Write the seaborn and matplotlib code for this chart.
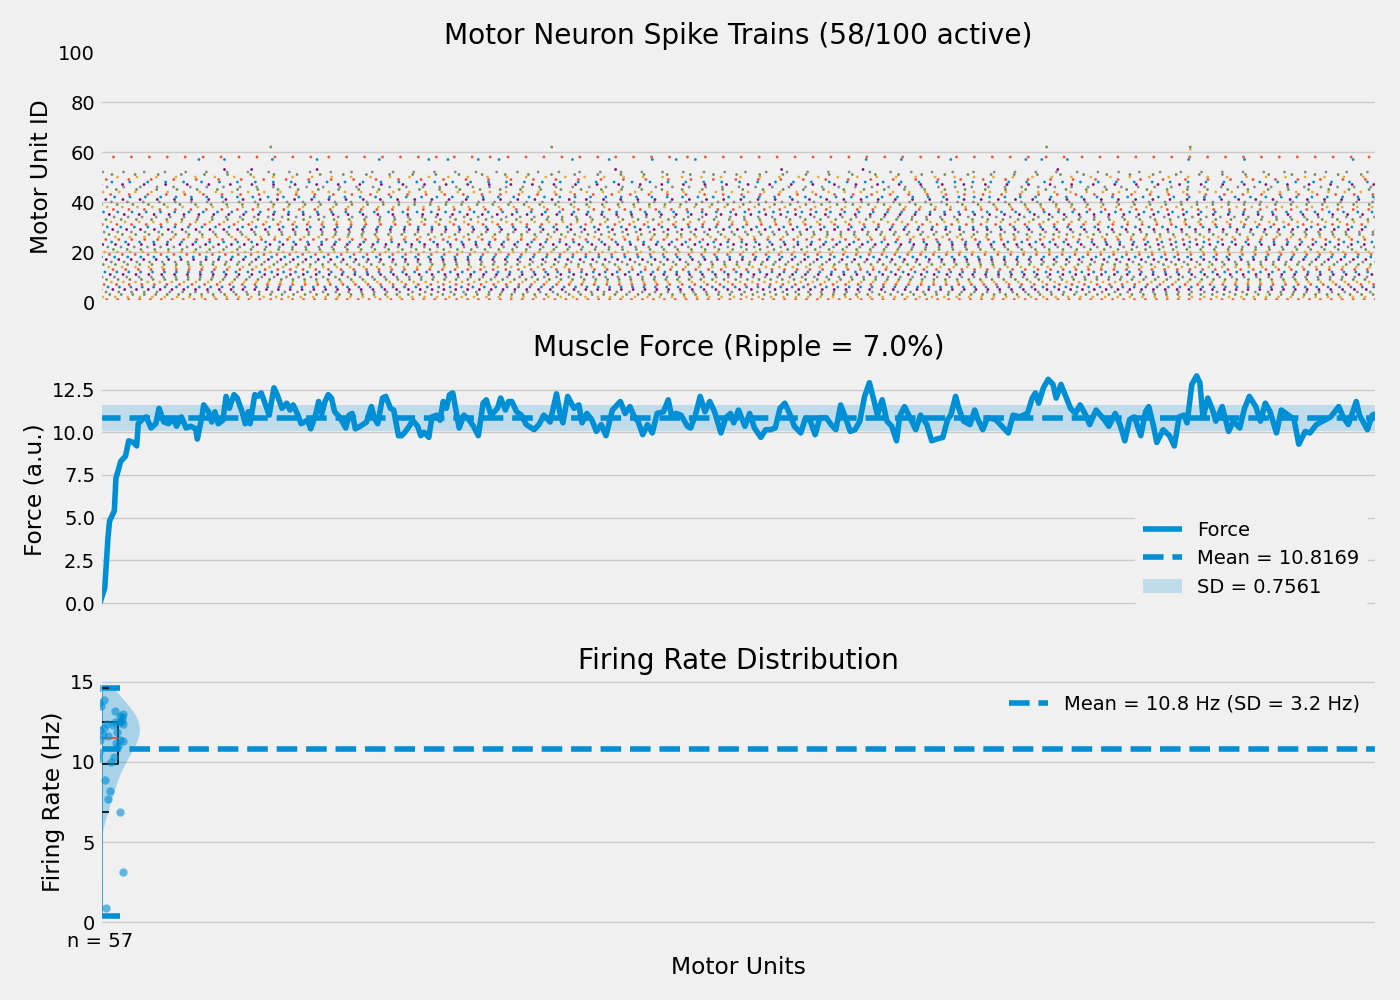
import numpy as np
import pandas as pd
import seaborn as sns
import matplotlib
matplotlib.use("Agg")
import matplotlib.pyplot as plt

plt.style.use("fivethirtyeight")

duration = 8.0  # s
total_units = 100

# units firing steadily: id and mean rate (Hz)
dense_ids = list(range(53)) + [58]
dense_rates = [13.3, 14.6, 12.9, 13.9, 12.5, 13.5, 14.0, 12.7, 13.2, 13.7,
               13.0, 12.4, 13.4, 12.6, 11.9, 13.1, 12.5, 12.8, 12.2, 12.4,
               12.5, 11.6, 12.1, 12.4, 11.4, 12.3, 11.0, 12.0, 11.7, 11.5,
               11.8, 10.9, 11.3, 10.5, 11.4, 10.7, 11.2, 10.3, 10.6, 10.2,
               10.0, 9.3, 10.4, 8.6, 9.9, 7.9, 9.6, 7.4, 8.9, 7.1,
               8.2, 6.9, 7.7,
               8.9]

# sporadic units: spike times (s)
sparse_spikes = {
    53: [0.78, 0.95, 1.36, 3.23, 4.27, 4.78, 6.00],
    57: [0.62, 0.78, 1.08, 1.36, 1.75, 2.06, 2.18, 2.37, 2.50, 2.96, 3.19, 3.46,
         3.61, 3.73, 4.80, 5.02, 5.33, 5.80, 5.90, 6.06, 6.82, 7.17, 7.85],
    61: [6.83],
    62: [1.07, 2.83, 5.93, 6.83],
}
# rates of units 53, 57, 62 (unit 61 fired once -> not in distribution)
sparse_rates = [0.9, 3.1, 0.4]

force_time = [
    0.00, 0.03, 0.05, 0.06, 0.09, 0.10, 0.13, 0.16, 0.18, 0.21, 0.23, 0.24, 0.27, 0.29,
    0.32, 0.35, 0.37, 0.40, 0.43, 0.46, 0.48, 0.51, 0.54, 0.57, 0.60, 0.61, 0.64, 0.65,
    0.68, 0.70, 0.72, 0.74, 0.77, 0.79, 0.81, 0.84, 0.86, 0.89, 0.91, 0.93, 0.94, 0.97,
    0.99, 1.01, 1.03, 1.06, 1.09, 1.11, 1.14, 1.17, 1.19, 1.21, 1.24, 1.26, 1.30, 1.32,
    1.35, 1.37, 1.39, 1.41, 1.43, 1.45, 1.47, 1.50, 1.54, 1.56, 1.58, 1.60, 1.63, 1.67,
    1.70, 1.72, 1.74, 1.77, 1.79, 1.82, 1.84, 1.87, 1.89, 1.91, 1.93, 1.96, 1.99, 2.01,
    2.03, 2.06, 2.08, 2.11, 2.13, 2.15, 2.17,
    2.19, 2.21, 2.25, 2.28, 2.31, 2.34, 2.37, 2.40, 2.42, 2.45, 2.49, 2.51, 2.54, 2.56,
    2.58, 2.61, 2.64, 2.67, 2.72, 2.75, 2.78, 2.82, 2.86, 2.88, 2.90, 2.93, 2.97, 3.00,
    3.02, 3.05, 3.08, 3.11, 3.14, 3.17, 3.21, 3.24, 3.26, 3.29, 3.32, 3.35, 3.37, 3.40,
    3.43, 3.46, 3.49, 3.53, 3.56, 3.58, 3.61, 3.64, 3.68, 3.70, 3.73, 3.76, 3.79, 3.82,
    3.85, 3.89, 3.92, 3.95, 3.97, 4.00, 4.04, 4.07, 4.10, 4.14, 4.17, 4.20, 4.23, 4.26,
    4.29, 4.32, 4.35, 4.39, 4.42, 4.45, 4.48, 4.51, 4.55, 4.58, 4.61, 4.64, 4.67, 4.70,
    4.73, 4.76, 4.79, 4.82, 4.85, 4.87, 4.90, 4.93, 4.96, 4.99, 5.01, 5.04, 5.08, 5.11,
    5.14, 5.18, 5.21, 5.24, 5.28, 5.31,
    5.33, 5.36, 5.38, 5.41, 5.45, 5.48, 5.50, 5.53, 5.56, 5.61, 5.65, 5.69, 5.72, 5.76,
    5.81, 5.84, 5.86, 5.88, 5.91, 5.94, 5.97, 5.99, 6.02, 6.05, 6.08, 6.11, 6.14, 6.17,
    6.20, 6.24, 6.29, 6.32, 6.36, 6.39, 6.42, 6.45, 6.48, 6.52, 6.55, 6.57, 6.60, 6.62,
    6.66, 6.70, 6.73, 6.76, 6.79, 6.81, 6.84, 6.87, 6.89, 6.91, 6.94, 6.97, 6.99, 7.03,
    7.07, 7.10, 7.14, 7.17, 7.20, 7.24, 7.27, 7.30, 7.33, 7.37, 7.40, 7.43, 7.48, 7.51,
    7.55, 7.58, 7.62, 7.66, 7.71, 7.76, 7.79, 7.82, 7.87, 7.89, 7.94, 7.97, 8.00]
force_value = [
    0.0, 0.9, 3.8, 4.8, 5.4, 7.3, 8.3, 8.6, 9.5, 9.4, 9.2, 10.5, 10.8, 10.9,
    10.25, 10.5, 11.4, 10.6, 10.5, 10.8, 10.35, 10.9, 10.25, 10.35, 10.2, 9.6, 11.0, 11.6,
    11.2, 10.6, 11.2, 10.5, 10.7, 12.1, 11.4, 12.2, 12.0, 11.2, 10.5, 11.2, 10.5, 12.2,
    12.1, 12.3, 11.8, 11.0, 12.6, 12.2, 11.4, 11.7, 11.3, 11.6, 11.0, 10.5, 10.7, 10.2,
    11.0, 11.8, 11.1, 11.8, 12.2, 12.0, 11.2, 10.9, 10.25, 11.0, 11.1, 10.2, 10.35, 10.6,
    11.5, 10.8, 10.5, 12.0, 12.1, 11.4, 11.3, 9.8, 9.8, 10.0, 10.25, 10.7, 10.35, 9.8,
    10.0, 9.7, 10.9, 11.0, 10.7, 11.8, 11.4,
    12.2, 12.3, 10.25, 11.0, 10.75, 10.35, 9.8, 11.7, 11.9, 11.0, 11.4, 12.0, 11.3, 11.8,
    11.8, 11.2, 11.0, 10.45, 10.15, 10.45, 11.0, 10.6, 12.25, 11.2, 10.55, 12.1, 11.4, 11.6,
    10.55, 11.1, 10.75, 10.05, 10.45, 9.8, 11.3, 11.6, 11.8, 11.1, 11.5, 10.85, 10.65, 9.86,
    10.45, 9.96, 11.1, 11.2, 11.9, 11.0, 11.1, 11.0, 10.35, 10.25, 11.0, 12.1, 11.2, 11.8,
    11.2, 9.96, 10.85, 11.1, 10.55, 11.3, 10.35, 11.1, 10.25, 9.7, 10.15, 10.15, 10.25, 11.4,
    11.7, 11.1, 10.35, 9.96, 10.85, 10.65, 9.86, 10.85, 10.85, 10.45, 10.15, 11.6, 10.85, 10.05,
    10.15, 10.65, 12.1, 12.9, 11.8, 11.0, 11.9, 10.65, 10.35, 9.5, 10.95, 11.5, 10.75, 10.15,
    11.0, 10.45, 9.5, 9.6, 9.7, 10.75,
    11.0, 12.1, 11.4, 10.65, 10.45, 11.3, 10.75, 10.15, 10.85, 10.75, 10.35, 9.96, 11.0, 10.9,
    11.1, 12.0, 12.3, 11.7, 12.6, 13.1, 12.8, 12.0, 12.8, 12.1, 11.4, 11.1, 11.6, 11.1,
    10.45, 11.3, 10.75, 10.35, 11.1, 10.45, 9.5, 10.75, 10.9, 9.8, 11.2, 11.5, 10.35, 9.4,
    10.15, 9.8, 9.2, 10.9, 11.0, 10.55, 12.8, 13.3, 12.9, 10.85, 12.0, 11.3, 10.65, 11.5,
    10.05, 10.65, 10.25, 11.4, 12.1, 11.5, 10.65, 11.7, 11.2, 9.96, 11.3, 11.1, 10.75, 9.3,
    10.05, 9.96, 10.45, 10.65, 10.9, 11.5, 10.85, 10.45, 11.8, 11.0, 10.15, 11.0, 11.1]
force_mean = 10.8169
force_sd = 0.7561

rate_mean = 10.8
rate_sd = 3.2

colors = plt.rcParams["axes.prop_cycle"].by_key()["color"]
bg = plt.rcParams["axes.facecolor"]

# spike table: steady units get a staggered start within their first cycle
rows = []
for i, (uid, rate) in enumerate(zip(dense_ids, dense_rates)):
    start = ((i * 0.618) % 1.0) / rate
    for t in np.arange(start, duration, 1 / rate):
        rows.append((t, uid))
for uid, times in sparse_spikes.items():
    for t in times:
        rows.append((t, uid))
spikes = pd.DataFrame(rows, columns=["time", "unit"])
active = sorted(spikes["unit"].unique())
palette = {u: colors[i % len(colors)] for i, u in enumerate(active)}

firing_rates = dense_rates + sparse_rates

fig, (ax1, ax2, ax3) = plt.subplots(3, 1, figsize=(14, 10), sharex=True)
fig.subplots_adjust(left=0.0714, right=0.9836, top=0.948, bottom=0.073, hspace=0.25)

# raster
sns.scatterplot(data=spikes, x="time", y="unit", hue="unit", palette=palette,
                s=4, linewidth=0, legend=False, ax=ax1)
ax1.set_ylim(0, 100)
ax1.set_yticks(range(0, 101, 20))
ax1.set_ylabel("Motor Unit ID")
ax1.set_xlabel("")
ax1.set_title(f"Motor Neuron Spike Trains ({len(active)}/{total_units} active)")

# force
sns.lineplot(x=force_time, y=force_value, color=colors[0], linewidth=4,
             label="Force", ax=ax2)
ax2.axhline(force_mean, ls="--", lw=4, color=colors[0],
            label=f"Mean = {force_mean:.4f}")
ax2.axhspan(force_mean - force_sd, force_mean + force_sd, color=colors[0],
            alpha=0.2, lw=0, label=f"SD = {force_sd:.4f}")
ax2.set_ylim(-0.665, 13.965)
ax2.set_yticks(np.arange(0, 12.6, 2.5))
ax2.set_ylabel("Force (a.u.)")
ax2.set_title(f"Muscle Force (Ripple = {100 * force_sd / force_mean:.1f}%)")
ax2.legend(loc="lower right", facecolor=bg, edgecolor=bg, framealpha=1)

# firing rate distribution
vp = ax3.violinplot([firing_rates], positions=[0], widths=0.5)
for key in ("cmins", "cmaxes", "cbars"):
    vp[key].set_linestyle("solid")
sns.stripplot(x=np.zeros(len(firing_rates)), y=firing_rates, native_scale=True,
              jitter=0.15, color=colors[0], alpha=0.6, size=6, ax=ax3)
ax3.boxplot(firing_rates, positions=[0], widths=0.22, showfliers=False,
            manage_ticks=False,
            boxprops=dict(color="black", linewidth=1.2),
            whiskerprops=dict(color="black", linewidth=1.2),
            capprops=dict(color="black", linewidth=1.2),
            medianprops=dict(color=colors[1], linewidth=1.5))
ax3.axhline(rate_mean, ls="--", lw=4, color=colors[0],
            label=f"Mean = {rate_mean:.1f} Hz (SD = {rate_sd:.1f} Hz)")
ax3.set_ylim(-0.31, 15.31)
ax3.set_yticks([0, 5, 10, 15])
ax3.set_ylabel("Firing Rate (Hz)")
ax3.set_title("Firing Rate Distribution")
ax3.legend(loc="upper right", facecolor=bg, edgecolor=bg, framealpha=1)

ax3.set_xlim(0, duration)
ax3.set_xticks([0])
ax3.set_xticklabels([f"n = {len(firing_rates)}"])
ax3.set_xlabel("Motor Units")

for ax in (ax1, ax2, ax3):
    ax.xaxis.grid(False)

fig.savefig("out.png", dpi=100)
